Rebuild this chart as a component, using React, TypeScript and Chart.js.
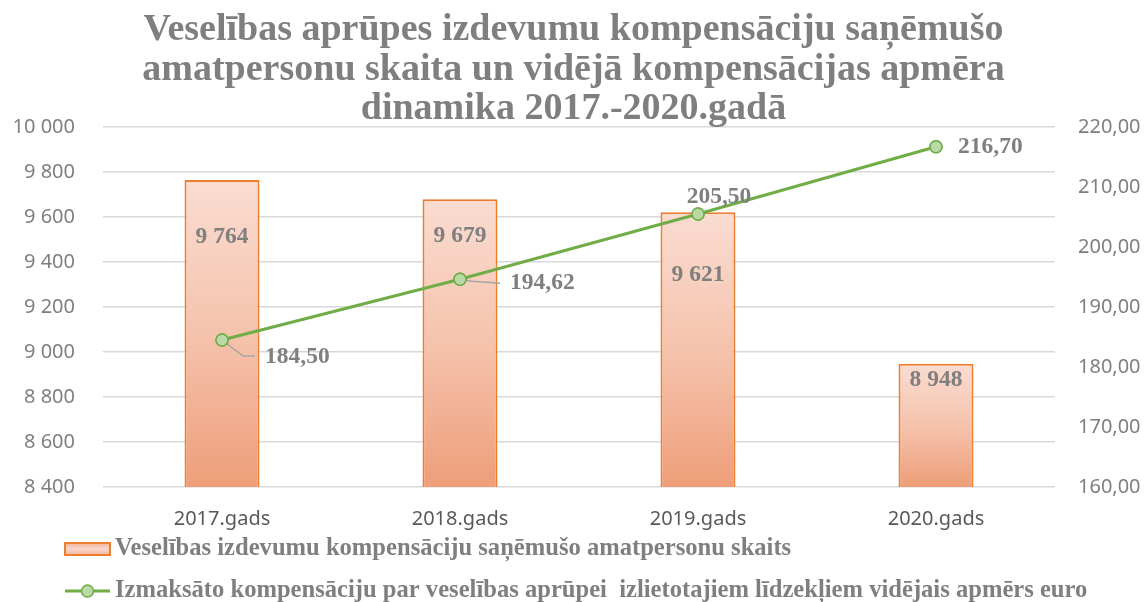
import { useEffect, useRef } from 'react';
import { Chart, registerables } from 'chart.js';

Chart.register(...registerables);

// ---- data ----
const categories = ['2017.gads', '2018.gads', '2019.gads', '2020.gads'];
const officialsCount = [9764, 9679, 9621, 8948];
const avgCompensation = [184.5, 194.62, 205.5, 216.7];
const leftAxisMin = 8400;
const leftAxisMax = 10000;
const leftAxisStep = 200;
const rightAxisMin = 160;
const rightAxisMax = 220;
const rightAxisStep = 10;
const titleLines = [
  'Veselības aprūpes izdevumu kompensāciju saņēmušo',
  'amatpersonu skaita un vidējā kompensācijas apmēra',
  'dinamika 2017.-2020.gadā',
];
const barSeriesName = 'Veselības izdevumu kompensāciju saņēmušo amatpersonu skaits';
const lineSeriesName =
  'Izmaksāto kompensāciju par veselības aprūpei  izlietotajiem līdzekļiem vidējais apmērs euro';

// ---- style ----
const GRAY = '#7f7f7f';
const ORANGE = '#ed7d31';
const GREEN = '#70ad47';
const SERIF = '"Liberation Serif", "Times New Roman", serif';
const SANS = '"Noto Sans", sans-serif';
// bar value label: offset (px) below the bar top
const barLabelDy = [57, 37, 63, 16];
// line value label placement relative to the marker: [dx, dy, align]
const lineLabelPos: [number, number, CanvasTextAlign][] = [
  [43, 17, 'left'],
  [50, 4, 'left'],
  [21, -17, 'center'],
  [22, 0, 'left'],
];
// leader lines relative to the marker
const leaders: ([number, number][] | null)[] = [
  [[0, 0], [21, 16], [33, 16]],
  [[0, 0], [12, 2], [40, 4]],
  null,
  null,
];

const fmtThousands = (n: number) => String(Math.round(n)).replace(/\B(?=(\d{3})+(?!\d))/g, ' ');
const fmtDec = (n: number) => n.toFixed(2).replace('.', ',');

const overlayPlugin = {
  id: 'overlay',
  afterDatasetsDraw(chart: any) {
    const ctx = chart.ctx as CanvasRenderingContext2D;
    const barMeta = chart.getDatasetMeta(0);
    const lineMeta = chart.getDatasetMeta(1);
    ctx.save();
    ctx.fillStyle = GRAY;
    ctx.font = `bold 23.5px ${SERIF}`;
    ctx.textBaseline = 'middle';
    barMeta.data.forEach((el: any, i: number) => {
      ctx.textAlign = 'center';
      ctx.fillText(fmtThousands(officialsCount[i]), el.x, el.y + barLabelDy[i]);
    });
    lineMeta.data.forEach((el: any, i: number) => {
      const lead = leaders[i];
      if (lead) {
        ctx.strokeStyle = '#a6a6a6';
        ctx.lineWidth = 1.5;
        ctx.beginPath();
        lead.forEach(([dx, dy], k) => {
          if (k === 0) ctx.moveTo(el.x + dx, el.y + dy);
          else ctx.lineTo(el.x + dx, el.y + dy);
        });
        ctx.stroke();
      }
    });
    // redraw markers over leaders
    lineMeta.data.forEach((el: any) => el.draw(ctx, chart.chartArea));
    lineMeta.data.forEach((el: any, i: number) => {
      const [dx, dy, align] = lineLabelPos[i];
      ctx.textAlign = align;
      ctx.fillStyle = GRAY;
      ctx.fillText(fmtDec(avgCompensation[i]), el.x + dx, el.y + dy);
    });
    ctx.restore();
  },
  afterDraw(chart: any) {
    const ctx = chart.ctx as CanvasRenderingContext2D;
    const w = chart.width;
    ctx.save();
    // title
    ctx.fillStyle = GRAY;
    ctx.font = `bold 38px ${SERIF}`;
    ctx.textAlign = 'center';
    ctx.textBaseline = 'alphabetic';
    titleLines.forEach((line, i) => ctx.fillText(line, w / 2 + 1, 40 + i * 39.5));

    // legend
    const lx = 65;
    const y1 = 549;
    const y2 = 591;
    const g = ctx.createLinearGradient(0, y1 - 6, 0, y1 + 6);
    g.addColorStop(0, '#f3b59b');
    g.addColorStop(0.5, '#f9d6c9');
    g.addColorStop(1, '#f3b59b');
    ctx.fillStyle = g;
    ctx.fillRect(lx, y1 - 6, 45, 12);
    ctx.strokeStyle = ORANGE;
    ctx.lineWidth = 2;
    ctx.strokeRect(lx, y1 - 6, 45, 12);

    ctx.strokeStyle = GREEN;
    ctx.lineWidth = 3;
    ctx.beginPath();
    ctx.moveTo(lx, y2);
    ctx.lineTo(lx + 45, y2);
    ctx.stroke();
    ctx.beginPath();
    ctx.arc(lx + 22.5, y2, 6, 0, Math.PI * 2);
    ctx.fillStyle = '#b9d9a6';
    ctx.fill();
    ctx.lineWidth = 1.5;
    ctx.stroke();

    ctx.fillStyle = GRAY;
    ctx.font = `bold 24.6px ${SERIF}`;
    ctx.textAlign = 'left';
    ctx.textBaseline = 'middle';
    ctx.fillText(barSeriesName, lx + 50, y1);
    ctx.fillText(lineSeriesName, lx + 50, y2);
    ctx.restore();
  },
};

export default function App() {
  const ref = useRef<HTMLCanvasElement | null>(null);

  useEffect(() => {
    if (!ref.current) return;
    const chart = new Chart(ref.current, {
      type: 'bar',
      data: {
        labels: categories,
        datasets: [
          {
            type: 'bar',
            label: barSeriesName,
            data: officialsCount,
            yAxisID: 'y',
            order: 2,
            backgroundColor: (c: any) => {
              const ch = c.chart;
              if (!ch.chartArea || c.type !== 'data') return '#f5c3ad';
              const top = ch.scales.y.getPixelForValue(c.raw);
              const bottom = ch.chartArea.bottom;
              const gr = ch.ctx.createLinearGradient(0, top, 0, bottom);
              gr.addColorStop(0, '#fadcd1');
              gr.addColorStop(0.5, '#f5c3ad');
              gr.addColorStop(1, '#ee9e79');
              return gr;
            },
            borderColor: ORANGE,
            borderWidth: 2,
            borderSkipped: false,
            barPercentage: 0.315,
            categoryPercentage: 1,
          },
          {
            type: 'line',
            label: lineSeriesName,
            data: avgCompensation,
            yAxisID: 'y1',
            order: 1,
            borderColor: GREEN,
            borderWidth: 3,
            pointRadius: 6,
            pointBackgroundColor: '#b9d9a6',
            pointBorderColor: GREEN,
            pointBorderWidth: 1.5,
            tension: 0,
          },
        ],
      },
      options: {
        responsive: true,
        maintainAspectRatio: false,
        animation: false,
        layout: { padding: { top: 127, left: 0, right: 0, bottom: 0 } },
        plugins: {
          legend: { display: false },
          title: { display: false },
          tooltip: { enabled: false },
        },
        scales: {
          x: {
            offset: true,
            grid: { display: false },
            border: { display: false },
            ticks: { color: '#595959', font: { family: SANS, size: 20 }, padding: 12 },
            afterFit: (s: any) => {
              s.height = 115;
            },
          },
          y: {
            position: 'left',
            min: leftAxisMin,
            max: leftAxisMax,
            grid: { color: '#d9d9d9', lineWidth: 1.5, drawTicks: false },
            border: { display: false },
            ticks: {
              stepSize: leftAxisStep,
              color: GRAY,
              font: { family: SANS, size: 20 },
              padding: 28,
              callback: (v: any) => fmtThousands(Number(v)),
            },
            afterFit: (s: any) => {
              s.width = 103;
            },
          },
          y1: {
            position: 'right',
            min: rightAxisMin,
            max: rightAxisMax,
            grid: { display: false, drawTicks: false },
            border: { display: false },
            ticks: {
              stepSize: rightAxisStep,
              color: GRAY,
              font: { family: SANS, size: 20 },
              padding: 23,
              callback: (v: any) => fmtDec(Number(v)),
            },
            afterFit: (s: any) => {
              s.width = 90;
            },
          },
        },
      },
      plugins: [overlayPlugin],
    });
    return () => chart.destroy();
  }, []);

  return (
    <div style={{ position: 'fixed', left: 0, top: 0, width: 1145, height: 602, background: '#fff' }}>
      <canvas ref={ref} />
    </div>
  );
}
